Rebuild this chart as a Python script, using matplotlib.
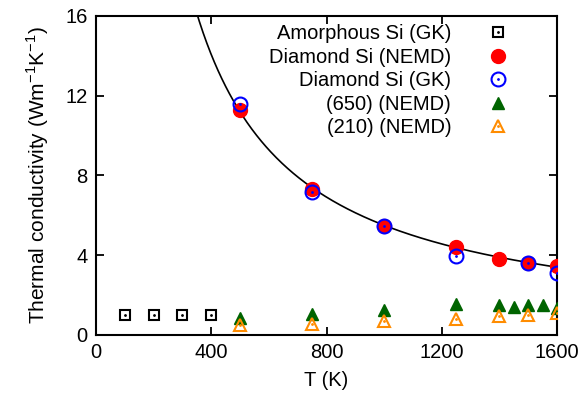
import numpy as np
import matplotlib.pyplot as plt
from matplotlib.lines import Line2D

plt.rcParams['font.family'] = ['Liberation Sans', 'DejaVu Sans']
plt.rcParams['mathtext.fontset'] = 'custom'
plt.rcParams['mathtext.rm'] = 'Liberation Sans'

# thermal conductivity data (W/mK) vs temperature (K)
T_amorph = [100, 200, 300, 400]
k_amorph = [1.0, 1.0, 1.0, 1.0]

T_nemd = [500, 750, 1000, 1250, 1400, 1500, 1600]
k_nemd = [11.28, 7.32, 5.47, 4.42, 3.82, 3.61, 3.47]

T_gk = [500, 750, 1000, 1250, 1500, 1600]
k_gk = [11.6, 7.17, 5.47, 3.98, 3.6, 3.09]

T_650 = [500, 750, 1000, 1250, 1400, 1450, 1500, 1550, 1600]
k_650 = [0.87, 1.04, 1.25, 1.54, 1.5, 1.4, 1.5, 1.49, 1.34]

T_210 = [500, 750, 1000, 1250, 1400, 1500, 1600]
k_210 = [0.5, 0.57, 0.69, 0.79, 0.97, 1.0, 1.09]

# power-law fit k = A * T^b through the NEMD diamond points
b, logA = np.polyfit(np.log(T_nemd), np.log(k_nemd), 1)
T_fit = np.linspace(300, 1600, 400)
k_fit = np.exp(logA) * T_fit ** b

fs = 14.5

fig = plt.figure(figsize=(5.87, 4.07), dpi=100)
ax = fig.add_axes([0.1635, 0.177, 0.7855, 0.784])

ax.plot(T_fit, k_fit, color='black', lw=1.2, zorder=2)

ax.plot(T_amorph, k_amorph, 's', ms=7, mfc='none', mec='black', mew=1.5, zorder=3)
ax.plot(T_amorph, k_amorph, '.', ms=2, color='black', zorder=3)
ax.plot(T_nemd, k_nemd, 'o', ms=10, color='red', mec='red', zorder=3)
ax.plot(T_gk, k_gk, 'o', ms=10, mfc='none', mec='blue', mew=1.5, zorder=4)
ax.plot(T_gk, k_gk, '.', ms=2, color='blue', zorder=4)
ax.plot(T_650, k_650, '^', ms=9, color='darkgreen', mec='darkgreen', zorder=3)
ax.plot(T_210, k_210, '^', ms=9, mfc='none', mec='darkorange', mew=1.5, zorder=4)
ax.plot(T_210, k_210, '.', ms=2, color='darkorange', zorder=4)

ax.set_xlim(0, 1600)
ax.set_ylim(0, 16)
ax.set_xticks([0, 400, 800, 1200, 1600])
ax.set_yticks([0, 4, 8, 12, 16])
ax.tick_params(direction='in', length=6, width=1.3, top=True, right=True,
               labelsize=fs, pad=6)
for s in ax.spines.values():
    s.set_linewidth(1.5)

ax.set_xlabel('T (K)', fontsize=fs, labelpad=6)
ax.set_ylabel(r'Thermal conductivity (Wm$^{\mathregular{-1}}$K$^{\mathregular{-1}}$)',
              fontsize=15, labelpad=10)

handles = [
    (Line2D([], [], ls='', marker='s', ms=7, mfc='none', mec='black', mew=1.5),
     Line2D([], [], ls='', marker='.', ms=2, color='black')),
    Line2D([], [], ls='', marker='o', ms=10, color='red'),
    (Line2D([], [], ls='', marker='o', ms=10, mfc='none', mec='blue', mew=1.5),
     Line2D([], [], ls='', marker='.', ms=2, color='blue')),
    Line2D([], [], ls='', marker='^', ms=9, color='darkgreen'),
    (Line2D([], [], ls='', marker='^', ms=9, mfc='none', mec='darkorange', mew=1.5),
     Line2D([], [], ls='', marker='.', ms=2, color='darkorange')),
]
labels = ['Amorphous Si (GK)', 'Diamond Si (NEMD)', 'Diamond Si (GK)',
          '(650) (NEMD)', '(210) (NEMD)']
ax.legend(handles, labels, loc='upper right', bbox_to_anchor=(0.945, 1.03),
          frameon=False, markerfirst=False, fontsize=fs, labelspacing=0.22,
          handlelength=1.5, handletextpad=1.6, borderpad=0.4)

fig.savefig('out.png', dpi=100)
